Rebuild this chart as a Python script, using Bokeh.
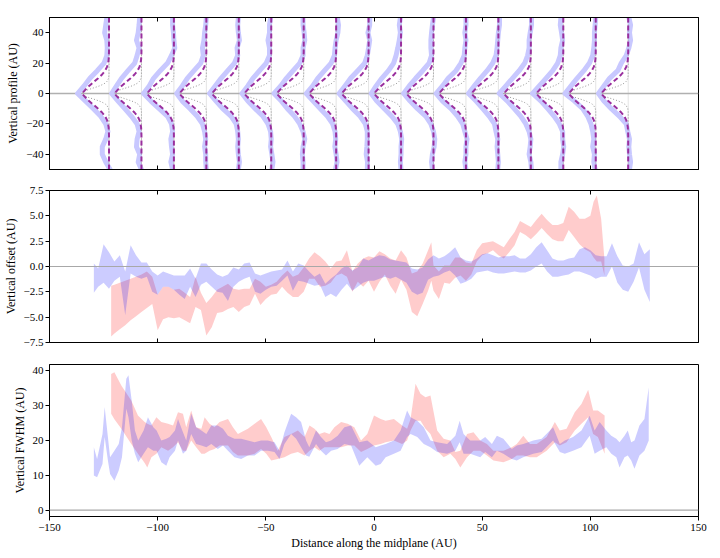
from bokeh.plotting import figure
from bokeh.layouts import column
from bokeh.models import Range1d, LinearAxis, FixedTicker, CustomJSTickFormatter, Span
from bokeh.embed import file_html
from bokeh.resources import INLINE

FONT = "Liberation Serif"

# ---------------- ticks ----------------
x_ticks = [-150, -100, -50, 0, 50, 100, 150]
prof_ticks = [-40, -20, 0, 20, 40]
off_ticks = [-7.5, -5.0, -2.5, 0.0, 2.5, 5.0, 7.5]
fwhm_ticks = [0, 10, 20, 30, 40]

# ---------------- panel 1: vertical profiles ----------------
profile_x0 = [-122.5, -107.5, -92.5, -77.5, -62.5, -47.5, -32.5, -17.5, -2.5,
              12.5, 27.5, 42.5, 57.5, 72.5, 87.5, 102.5, 117.5]

# model profile (dashed), horizontal extent in AU vs height
model_y = [-50.0, -47.5, -45.0, -42.5, -40.0, -37.5, -35.0, -32.5, -30.0, -27.5, -25.0,
           -22.5, -20.0, -17.5, -15.0, -12.5, -10.0, -7.5, -5.0, -2.5, 0.0, 2.5, 5.0,
           7.5, 10.0, 12.5, 15.0, 17.5, 20.0, 22.5, 25.0, 27.5, 30.0, 32.5, 35.0, 37.5,
           40.0, 42.5, 45.0, 47.5, 50.0]
model_off = [0, 0, 0, 0, 0, 0, 0, 0, 0, 0, 0.05, 0.15, 0.4, 0.9, 1.8, 3.2, 5.0, 7.1, 9.2,
             10.9, 12.5, 10.9, 9.2, 7.1, 5.0, 3.2, 1.8, 0.9, 0.4, 0.15, 0.05, 0, 0, 0, 0,
             0, 0, 0, 0, 0, 0]

# narrow (beam) profile, dotted
beam_y = [-50, -12, -10, -8, -7, -6, -5, -4, -3, -2, -1, 0, 1, 2, 3, 4, 5, 6, 7, 8, 10, 12, 50]
beam_off = [0, 0, 0.2, 0.9, 1.6, 2.8, 4.4, 6.4, 8.6, 10.6, 12.0, 12.5, 12.0, 10.6, 8.6,
            6.4, 4.4, 2.8, 1.6, 0.9, 0.2, 0, 0]

# measured profiles (blue), extent in AU at each height
data_y = [50, 45, 40, 35, 30, 25, 20, 15, 10, 5, 0, -5, -10, -15, -20, -25, -30, -35, -40, -45, -50]
data_off = [
    [1.0, 1.5, 2.0, 1.0, 0.8, 1.0, 2.3, 5.4, 8.8, 11.5, 14.5, 10.8, 7.2, 3.8, 1.5, 0.5, 1.5, 3.1, 3.1, 1.5, -0.5],
    [0.8, 1.1, 1.5, 2.3, 1.1, 2.0, 3.1, 6.2, 9.2, 11.5, 13.8, 10.8, 7.7, 4.6, 2.0, 1.1, 2.0, 2.3, 0.8, 1.5, 0.0],
    [0.6, 0.6, 0.2, 0.0, -0.4, 1.1, 2.9, 6.3, 9.4, 11.4, 14.0, 10.6, 6.8, 2.9, 1.1, 0.6, 1.4, 1.1, 0.6, 1.4, 0.6],
    [0.0, 0.3, 0.8, 1.1, 1.8, 1.4, 2.6, 5.7, 8.8, 11.1, 13.7, 11.1, 7.5, 4.2, 1.8, 0.8, 0.3, 0.8, 0.3, 0.3, 0.0],
    [0.2, 0.5, 0.2, -0.3, 0.8, 0.5, 2.0, 5.1, 8.2, 10.9, 13.5, 10.5, 7.4, 3.5, 1.2, 0.5, 0.2, 0.5, 0.2, -0.3, 0.2],
    [0.3, 0.8, 0.8, 1.5, 0.8, 0.8, 2.3, 5.4, 8.5, 10.8, 13.5, 10.8, 7.4, 3.8, 1.5, 0.3, 0.0, 0.3, -0.3, -0.8, -0.3],
    [0.3, 0.3, -0.2, -0.5, 0.3, 0.3, 1.8, 4.9, 8.0, 10.6, 13.7, 10.3, 7.5, 4.2, 1.8, 0.3, -0.5, 0.3, 0.6, 0.3, 0.3],
    [-0.5, -1.1, -0.8, 0.0, 0.5, 0.8, 2.3, 5.4, 8.5, 10.8, 13.8, 10.6, 7.3, 4.0, 1.6, 0.5, 0.2, 0.6, 0.0, -0.4, 0.3],
    [-0.5, -0.5, 0.3, -0.5, 0.0, 0.6, 1.8, 5.0, 8.3, 10.9, 13.6, 10.5, 7.4, 3.9, 1.5, 0.6, 0.6, 0.8, 1.1, 0.5, 0.6],
    [0.3, 0.8, 0.3, 0.8, 1.5, 2.3, 3.4, 5.8, 8.9, 11.5, 13.8, 11.2, 7.7, 4.3, 1.5, 0.3, -0.3, 0.0, 0.0, 0.3, 0.0],
    [0.0, 0.5, 0.9, 1.2, 1.2, 0.9, 2.0, 5.0, 8.2, 11.2, 13.8, 10.8, 7.4, 3.5, 1.2, 0.0, -0.6, -0.3, 0.5, 0.9, 0.5],
    [0.0, 0.0, 0.5, 0.0, 0.5, 0.8, 2.3, 4.6, 8.2, 10.8, 13.8, 10.8, 6.9, 3.8, 1.5, 0.5, -0.5, 0.0, 0.0, 0.5, 0.0],
    [-0.5, -0.5, 0.0, 0.3, 0.6, 1.1, 2.6, 5.2, 8.3, 11.1, 13.8, 10.3, 7.2, 4.2, 1.8, 1.1, 0.3, 0.6, 0.3, 0.0, 0.3],
    [-0.3, -0.3, 0.3, 0.8, 0.8, 1.5, 2.8, 5.4, 8.5, 11.5, 14.6, 10.8, 7.7, 4.6, 2.3, 0.8, 0.0, 0.3, 0.8, 0.0, -0.3],
    [1.1, 1.4, 0.8, 0.3, 1.1, 1.4, 2.6, 4.9, 8.0, 11.1, 14.2, 10.3, 7.2, 4.2, 1.8, 0.3, 0.3, -0.2, 0.3, 1.1, 1.1],
    [0.0, 0.3, 0.6, 0.6, 0.9, 1.4, 2.9, 5.5, 8.6, 11.4, 14.2, 9.8, 6.0, 3.7, 2.2, 1.4, 0.9, 1.4, 0.6, 0.9, 0.3],
    [-0.3, -1.1, -0.6, -1.1, -0.3, 0.9, 3.2, 4.8, 8.6, 11.2, 13.7, 11.2, 7.8, 4.0, 0.9, 0.2, -0.6, -0.3, -0.6, -1.1, -0.6],
]

# ---------------- panel 2: vertical offset ----------------
off_blue_x = [-129.5, -127.5, -125.0, -122.5, -120.0, -117.5, -115.0, -112.5, -110.0, -107.5,
              -105.0, -102.5, -100.0, -97.5, -95.0, -92.5, -90.0, -87.5, -85.0, -82.5,
              -80.0, -77.5, -75.0, -72.5, -70.0, -67.5, -65.0, -62.5, -60.0, -57.5,
              -55.0, -52.5, -50.0, -47.5, -45.0, -42.5, -40.0, -37.5, -35.0, -32.5,
              -30.0, -27.5, -25.0, -22.5, -20.0, -17.5, -15.0, -12.5, -10.0, -7.5,
              -5.0, -2.5, 0.0, 2.5, 5.0, 7.5, 10.0, 12.5, 15.0, 17.5,
              20.0, 22.5, 25.0, 27.5, 30.0, 32.5, 35.0, 37.5, 40.0, 42.5,
              45.0, 47.5, 50.0, 52.5, 55.0, 57.5, 60.0, 62.5, 65.0, 67.5,
              70.0, 72.5, 75.0, 77.5, 80.0, 82.5, 85.0, 87.5, 90.0, 92.5,
              95.0, 97.5, 100.0, 102.5, 105.0, 107.5, 110.0, 112.5, 115.0, 117.5,
              120.0, 122.5, 125.0, 127.5]
off_blue_lo = [-2.6, -2.0, -1.6, -2.2, -1.4, -1.0, -4.8, -0.7, -1.0, -1.2,
               -1.0, -2.5, -2.8, -2.0, -2.0, -2.3, -2.8, -3.2, -2.0, -3.0,
               -1.8, -1.5, -2.0, -2.5, -2.6, -3.4, -2.0, -1.5, -1.2, -1.0,
               -2.5, -2.7, -2.3, -2.0, -1.9, -1.4, -0.9, -2.4, -1.4, -1.5,
               -1.7, -1.9, -1.8, -3.0, -2.7, -3.0, -2.3, -1.7, -2.4, -2.0,
               -1.6, -1.4, -1.4, -1.2, -1.0, -1.2, -1.0, -1.3, -1.6, -2.5,
               -2.8, -2.6, -1.3, -1.0, -0.9, -0.6, -0.4, -0.9, -1.7, -1.5,
               -1.2, -0.6, -0.5, -0.4, -0.6, -0.7, -0.7, -0.6, -0.5, -0.6,
               -0.6, -0.4, 0.0, 0.3, -0.5, -1.0, -1.0, -0.9, -0.8, -0.5,
               -0.5, -0.7, -0.9, -1.2, -1.0, -1.0, 0.0, -1.6, -2.3, -2.5,
               -1.5, -0.1, -2.3, -3.5]
off_blue_hi = [0.3, -0.2, 2.2, 1.4, 0.5, 1.1, -0.5, 2.1, 1.1, 0.4,
               0.4, -0.5, -0.9, -0.5, -0.7, -0.9, -0.9, -0.9, -0.2, -1.2,
               0.3, 0.3, -0.3, -0.8, -1.0, -0.8, -0.1, -0.3, 0.3, 0.4,
               -0.7, -0.9, -0.7, -0.5, -0.4, -0.3, 0.6, -0.5, 0.3, 0.1,
               -0.5, -1.0, -0.7, -1.7, -1.2, -0.8, -0.2, 0.1, -0.4, -0.1,
               0.8, 0.6, 0.9, 1.1, 1.0, 0.7, 0.6, 0.5, 0.4, -0.2,
               -0.3, -0.1, 0.7, 1.1, 0.8, 1.0, 1.4, 1.9, 0.9, 0.6,
               0.5, 0.8, 1.2, 1.3, 1.1, 0.9, 1.0, 1.0, 1.1, 0.8,
               0.8, 1.2, 1.9, 2.4, 1.6, 0.8, 0.6, 0.6, 0.8, 0.9,
               1.7, 1.9, 1.6, 1.1, 1.0, 1.0, 2.3, 1.0, 0.1, 0.0,
               0.3, 2.4, 1.2, 1.7]

off_red_x = [-121.5, -120.0, -117.5, -115.0, -112.5, -110.0, -107.5, -105.0, -102.5, -100.0,
             -97.5, -95.0, -92.5, -90.0, -87.5, -85.0, -82.5, -80.0, -77.5, -75.0,
             -72.5, -70.0, -67.5, -65.0, -62.5, -60.0, -57.5, -55.0, -52.5, -50.0,
             -47.5, -45.0, -42.5, -40.0, -37.5, -35.0, -32.5, -30.0, -27.5, -25.0,
             -22.5, -20.0, -17.5, -15.0, -12.5, -10.0, -7.5,
             -5.0, -2.5, 0.0, 2.5, 5.0, 7.5, 10.0, 12.5, 15.0, 17.5,
             20.0, 22.5, 25.0, 26.5, 27.5, 30.0, 32.5, 35.0, 37.5, 40.0,
             42.5, 45.0, 47.5, 50.0, 52.5, 55.0, 57.5, 60.0, 62.5, 65.0,
             67.5, 70.0, 72.5, 75.0, 77.5, 80.0, 82.5, 85.0, 87.5, 90.0,
             92.5, 95.0, 97.5, 100.0, 101.5, 103.0, 105.0, 106.5]
off_red_lo = [-6.9, -6.6, -6.2, -5.8, -5.3, -4.9, -4.5, -4.1, -3.7, -6.3,
              -5.2, -5.0, -5.1, -5.0, -5.3, -5.6, -4.0, -4.3, -6.8, -6.0,
              -4.6, -4.5, -4.2, -4.0, -4.5, -4.0, -3.8, -2.7, -3.8, -3.2,
              -2.8, -2.7, -2.0, -2.6, -3.0, -3.0, -2.5, -1.2, -1.2, -2.0,
              -1.9, -1.6, -0.9, -0.7, -1.0, -2.5, -1.5,
              -2.0, -1.4, -2.5, -1.5, -0.8, -1.9, -2.7, -1.3, -2.3, -4.5,
              -4.9, -3.7, -2.4, -1.4, -2.4, -3.2, -1.6, -1.7, -1.1, -0.9,
              -1.4, -0.8, 0.5, 1.1, 1.3, 1.6, 1.1, 0.8, 1.4, 2.1,
              3.4, 3.1, 2.7, 3.2, 3.8, 3.2, 2.7, 2.5, 2.5, 3.6,
              2.9, 2.2, 1.7, 1.4, 0.9, 0.5, 0.5, -0.9]
off_red_hi = [-1.9, -1.8, -1.6, -1.4, -1.2, -1.0, -0.8, -0.5, -1.0, -2.8,
              -2.0, -2.0, -2.3, -2.2, -2.6, -3.0, -1.0, -2.6, -3.6, -3.0,
              -2.3, -2.0, -1.7, -2.2, -2.3, -2.2, -2.2, -1.2, -1.5, -2.0,
              -1.8, -1.5, -0.9, -0.4, -1.0, -0.8, -0.1, 0.8, 1.4, 1.0,
              0.5, -0.2, 0.5, 0.6, 1.6, -0.5, 0.3,
              0.8, 1.0, 0.9, 1.5, 1.2, 0.8, 0.6, 1.6, 0.9, -0.7,
              -0.5, 0.3, 1.6, 2.4, 0.1, -0.5, 0.1, 0.1, 0.9, 0.9,
              0.4, 0.3, 1.6, 2.3, 2.4, 2.5, 2.2, 1.9, 2.7, 3.4,
              4.5, 4.2, 3.9, 4.6, 5.2, 4.6, 4.1, 4.1, 4.3, 5.9,
              5.4, 4.7, 4.7, 5.0, 6.4, 7.0, 4.7, 0.8]

# ---------------- panel 3: vertical FWHM ----------------
fw_blue_x = [-129.5, -128.0, -125.5, -124.5, -123.0, -122.0, -120.0, -118.0, -116.5, -114.5,
             -113.5, -112.0, -110.5, -109.0, -106.5, -104.5, -102.0, -100.5, -98.3, -96.0,
             -94.5, -92.0, -90.6, -88.3, -86.8, -84.5, -82.2, -79.8, -77.5, -75.2,
             -72.2, -69.8, -67.5, -64.5, -61.4, -58.3, -55.2, -52.2, -49.1, -46.0,
             -43.7, -41.4, -38.3, -36.0, -33.7, -31.4, -29.9, -26.8, -24.5, -22.2,
             -19.8, -16.8, -13.7, -10.6, -6.8,
             -3.1, 0.8, 3.1, 5.4, 9.2, 12.3, 15.3, 16.9, 20.0, 23.0,
             26.1, 29.2, 33.8, 37.6, 39.6, 41.4, 44.5, 49.1, 51.4, 54.5,
             56.8, 59.8, 63.7, 66.0, 69.0, 73.6, 77.5, 80.5, 82.8, 85.9,
             88.2, 92.0, 95.9, 99.7, 102.0, 104.3, 107.4, 109.7, 112.0, 113.5,
             115.8, 117.3, 118.9, 120.4, 122.7, 125.0, 127.0]
fw_blue_lo = [9.9, 9.4, 13.2, 20.9, 14.2, 10.3, 8.4, 11.3, 15.1, 29.0,
              26.6, 19.9, 16.1, 13.7, 16.1, 18.0, 17.0, 17.0, 13.7, 12.7,
              15.1, 17.0, 19.9, 16.1, 17.0, 21.8, 18.9, 18.5, 18.0, 18.9,
              17.5, 18.5, 17.0, 15.1, 14.6, 15.6, 15.6, 17.0, 17.0, 16.6,
              14.6, 18.9, 21.8, 20.4, 18.0, 15.6, 15.3, 18.9, 17.0, 15.6,
              17.0, 17.5, 18.9, 18.5, 12.7,
              15.1, 12.7, 13.2, 15.1, 16.1, 17.0, 20.9, 21.8, 20.9, 18.9,
              18.0, 16.6, 16.1, 17.0, 19.4, 16.1, 16.1, 15.1, 16.6, 15.1,
              17.0, 16.1, 14.6, 14.2, 15.1, 16.1, 16.6, 18.5, 19.9, 16.6,
              16.1, 17.0, 18.0, 21.3, 16.1, 17.0, 18.0, 16.1, 15.1, 12.2,
              15.1, 15.6, 14.2, 11.8, 15.6, 17.0, 19.9]
fw_blue_hi = [18.0, 14.6, 21.8, 29.5, 20.9, 15.1, 17.0, 18.9, 23.7, 37.6,
              38.6, 31.4, 22.8, 19.9, 22.8, 26.6, 23.7, 22.8, 19.9, 20.4,
              20.9, 22.8, 26.1, 22.3, 19.9, 27.6, 23.7, 22.8, 21.8, 24.2,
              24.2, 23.3, 21.3, 20.4, 20.4, 19.9, 19.4, 19.9, 19.9, 19.4,
              17.0, 22.3, 27.6, 26.6, 25.2, 19.9, 18.0, 22.8, 20.9, 19.4,
              19.9, 21.3, 23.7, 24.2, 19.4,
              19.9, 18.0, 18.5, 18.9, 19.9, 22.8, 28.5, 26.6, 25.6, 23.7,
              19.9, 19.4, 18.9, 21.3, 25.6, 21.8, 19.9, 19.9, 20.9, 18.9,
              21.3, 20.4, 17.5, 18.5, 18.9, 19.9, 20.4, 22.3, 23.7, 18.9,
              19.9, 20.9, 22.8, 27.0, 22.8, 25.2, 22.8, 21.3, 20.4, 19.4,
              21.3, 22.8, 19.4, 19.9, 24.2, 26.1, 35.2]

fw_red_x = [-121.5, -120.0, -116.8, -112.2, -109.1, -106.0, -104.8, -102.9, -100.6, -98.3,
            -95.2, -92.9, -90.6, -88.3, -86.8, -84.5, -82.2, -79.8, -78.3, -76.0,
            -73.7, -71.4, -67.5, -65.2, -62.9, -61.4, -58.3, -55.2, -52.2, -49.8,
            -47.5, -44.5, -41.4, -38.3, -35.2, -32.1, -29.8, -27.5, -25.2, -22.9,
            -20.6, -18.3, -15.2, -12.2, -9.1, -6.0,
            -3.1, 0.0, 3.1, 5.4, 9.2, 13.0, 15.3, 16.9, 19.2, 21.5,
            23.8, 26.1, 29.2, 32.2, 35.3, 37.6, 39.9, 43.0, 46.0, 49.1,
            52.2, 55.2, 59.8, 63.7, 66.0, 69.0, 72.1, 75.2, 79.8, 83.6,
            85.9, 89.0, 92.8, 95.9, 99.0, 101.3, 103.5, 106.6]
fw_red_lo = [27.6, 26.0, 23.3, 18.9, 16.1, 13.5, 12.2, 15.1, 16.1, 18.0,
             17.0, 18.0, 19.4, 17.0, 17.0, 19.9, 18.0, 16.1, 16.1, 17.0,
             17.5, 18.5, 18.5, 16.6, 15.6, 15.6, 15.6, 16.1, 17.5, 16.1,
             14.2, 14.6, 15.1, 16.1, 16.6, 15.6, 17.0, 18.0, 17.0, 18.0,
             18.0, 18.0, 18.0, 18.5, 18.5, 16.6,
             17.5, 18.5, 18.9, 19.4, 19.9, 18.9, 19.9, 22.8, 25.6, 25.6,
             23.3, 21.8, 17.0, 15.1, 16.1, 14.6, 12.2, 15.1, 17.0, 17.0,
             15.6, 14.2, 13.7, 14.6, 15.6, 15.6, 15.1, 15.1, 17.0, 19.4,
             18.5, 19.4, 22.8, 24.7, 26.6, 21.8, 20.9, 16.1]
fw_red_hi = [39.0, 39.5, 35.7, 31.4, 27.1, 25.2, 24.7, 24.2, 26.6, 25.2,
             24.7, 24.2, 28.0, 27.6, 23.7, 28.5, 23.7, 23.3, 26.6, 24.7,
             23.7, 25.2, 26.1, 23.7, 21.8, 22.3, 23.3, 24.7, 26.1, 23.7,
             20.9, 17.0, 20.9, 21.8, 22.8, 20.9, 24.2, 23.3, 21.8, 22.3,
             21.8, 23.7, 25.2, 24.7, 23.7, 19.9,
             21.8, 27.1, 26.1, 25.6, 26.1, 24.2, 23.3, 26.1, 36.2, 33.3,
             32.3, 32.8, 22.8, 20.4, 19.9, 16.6, 17.0, 21.8, 22.3, 19.9,
             18.9, 17.0, 17.0, 18.0, 18.9, 21.3, 18.9, 18.9, 20.9, 25.2,
             22.8, 23.3, 28.0, 30.4, 34.5, 28.5, 28.5, 27.1]


# ---------------- helpers ----------------
def minus_fmt(decimals):
    return CustomJSTickFormatter(args=dict(d=decimals), code="""
        const s = Math.abs(tick).toFixed(d);
        return (tick < 0) ? '\\u2212' + s : s;
    """)


x_range = Range1d(-150, 150)


def make_fig(height, top, bottom, y_range, yticks, ydec, ylabel, show_x):
    p = figure(width=720, height=height, x_range=x_range, y_range=y_range,
               output_backend="svg", toolbar_location=None,
               min_border_left=48, min_border_right=22,
               min_border_top=top, min_border_bottom=bottom)
    p.grid.visible = False
    p.outline_line_color = "black"
    p.outline_line_width = 1
    p.background_fill_color = "white"
    p.border_fill_color = "white"

    # y axis
    ya = p.yaxis[0]
    ya.ticker = FixedTicker(ticks=yticks)
    ya.formatter = minus_fmt(ydec)
    ya.major_tick_in = 0
    ya.major_tick_out = 4
    ya.minor_tick_line_color = None
    ya.major_label_standoff = 2
    ya.major_label_text_font = FONT
    ya.major_label_text_font_size = "11px"
    ya.major_label_text_color = "black"
    ya.axis_label = ylabel
    ya.axis_label_text_font = FONT
    ya.axis_label_text_font_size = "12px"
    ya.axis_label_text_font_style = "normal"
    ya.axis_label_text_color = "black"
    ya.axis_label_standoff = 3
    ya.axis_line_color = "black"
    ya.major_tick_line_color = "black"

    xa = p.xaxis[0]
    xa.ticker = FixedTicker(ticks=x_ticks)
    xa.minor_tick_line_color = None
    xa.axis_line_color = "black"
    xa.major_tick_line_color = "black"
    if show_x:
        xa.formatter = minus_fmt(0)
        xa.major_tick_in = 0
        xa.major_tick_out = 4
        xa.major_label_standoff = 3
        xa.major_label_text_font = FONT
        xa.major_label_text_font_size = "11px"
        xa.major_label_text_color = "black"
        xa.axis_label = "Distance along the midplane (AU)"
        xa.axis_label_text_font = FONT
        xa.axis_label_text_font_size = "12px"
        xa.axis_label_text_font_style = "normal"
        xa.axis_label_text_color = "black"
        xa.axis_label_standoff = 2
    else:
        xa.major_tick_in = 4
        xa.major_tick_out = 0
        xa.major_label_standoff = 0
        xa.major_label_text_color = None
        top_ax = LinearAxis(ticker=FixedTicker(ticks=x_ticks))
        top_ax.major_tick_in = 4
        top_ax.major_tick_out = 0
        top_ax.major_label_standoff = 0
        top_ax.major_label_text_color = None
        top_ax.minor_tick_line_color = None
        top_ax.axis_line_color = "black"
        top_ax.major_tick_line_color = "black"
        p.add_layout(top_ax, "above")
    return p


# ---------------- panel 1 ----------------
p1 = make_fig(179, 17, 10, Range1d(-50, 50), prof_ticks, 0, "Vertical profile (AU)", False)
for x0 in profile_x0:
    p1.add_layout(Span(location=x0, dimension="height", line_color="#e4e4e4",
                       line_width=1, level="underlay"))
p1.add_layout(Span(location=0, dimension="width", line_color="#b0b0b0",
                   line_width=1.5, level="underlay"))
for x0, offs in zip(profile_x0, data_off):
    p1.line(x=[x0 - o for o in offs], y=data_y, line_color="#c8c8ff", line_width=5,
            line_join="round", line_cap="round")
for x0 in profile_x0:
    p1.line(x=[x0 - b for b in beam_off], y=beam_y, line_color="#8a8a8a",
            line_width=0.9, line_dash="1 2")
    p1.line(x=[x0 - m for m in model_off], y=model_y, line_color="#9a2f9e",
            line_width=2, line_dash="5 3")

# ---------------- panel 2 ----------------
p2 = make_fig(174, 11, 11, Range1d(-7.5, 7.5), off_ticks, 1, "Vertical offset (AU)", False)
p2.add_layout(Span(location=0, dimension="width", line_color="#a8a8a8", line_width=1.2))
p2.varea(x=off_red_x, y1=off_red_lo, y2=off_red_hi, fill_color="red", fill_alpha=0.2)
p2.varea(x=off_blue_x, y1=off_blue_lo, y2=off_blue_hi, fill_color="blue", fill_alpha=0.2)

# ---------------- panel 3 ----------------
p3 = make_fig(204, 11, 41, Range1d(-1.85, 41.7), fwhm_ticks, 0, "Vertical FWHM (AU)", True)
p3.add_layout(Span(location=0, dimension="width", line_color="#a8a8a8", line_width=1.2))
p3.varea(x=fw_red_x, y1=fw_red_lo, y2=fw_red_hi, fill_color="red", fill_alpha=0.2)
p3.varea(x=fw_blue_x, y1=fw_blue_lo, y2=fw_blue_hi, fill_color="blue", fill_alpha=0.2)

layout = column(p1, p2, p3, spacing=0)
open("out.html", "w").write(file_html(layout, INLINE))
